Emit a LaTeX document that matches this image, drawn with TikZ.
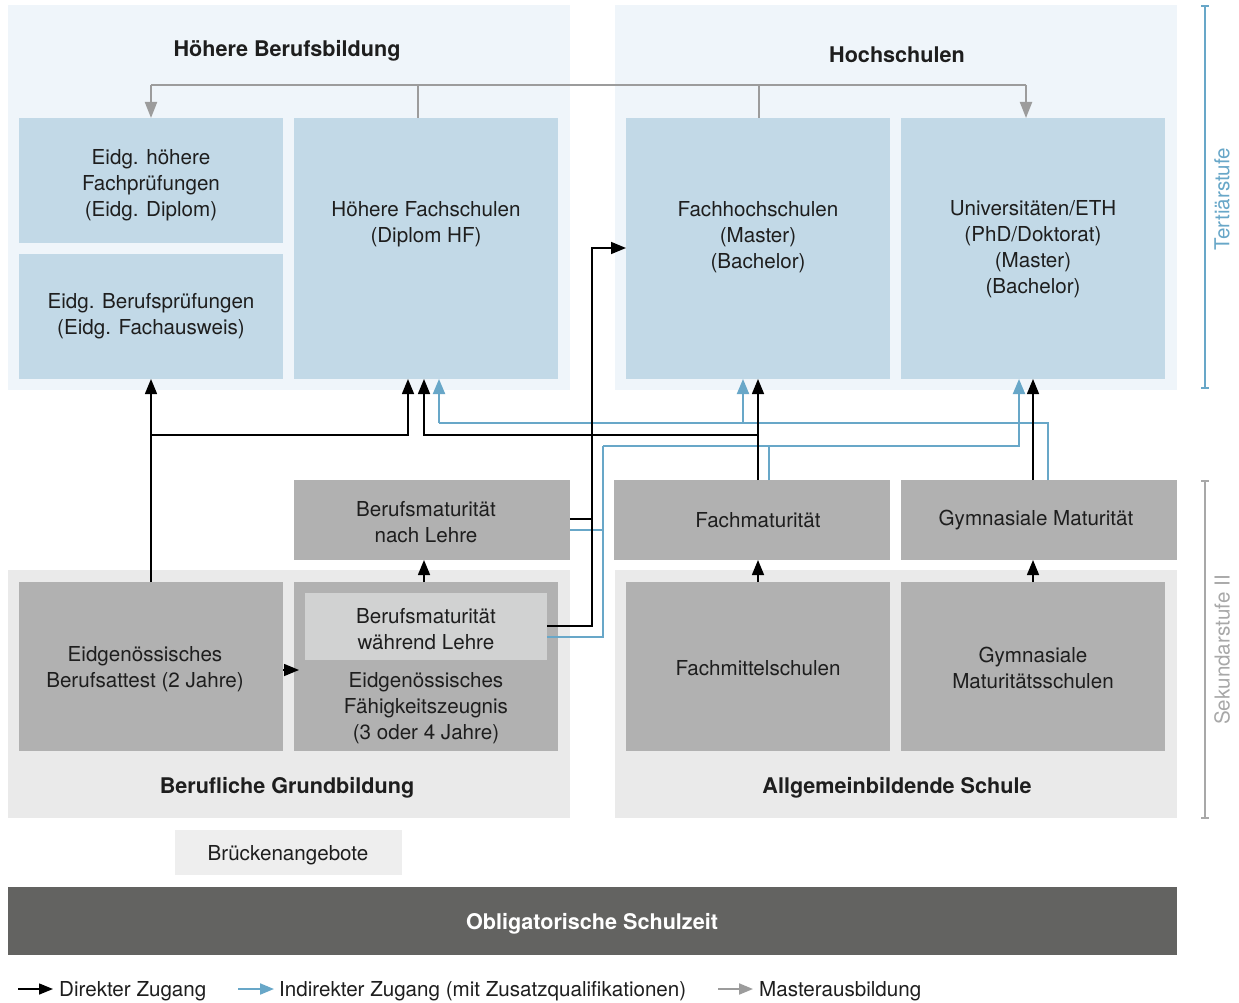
\documentclass[tikz,border=0pt]{standalone}
\usepackage{fontspec}
\setmainfont{TeX Gyre Heros}
\usetikzlibrary{arrows.meta}
\definecolor{panelblue}{HTML}{EFF5FA}
\definecolor{boxblue}{HTML}{C2D9E7}
\definecolor{boxgray}{HTML}{B1B1B1}
\definecolor{panelgray}{HTML}{EAEAEA}
\definecolor{boxlight}{HTML}{D1D2D2}
\definecolor{darkbar}{HTML}{636361}
\definecolor{bluel}{HTML}{68A7C8}
\definecolor{grayl}{HTML}{9C9C9C}
\definecolor{sekgray}{HTML}{A8A8A8}
\definecolor{textc}{HTML}{1E1E1E}
\tikzset{
  rect/.style={inner sep=0, outer sep=0, anchor=north west, draw=none},
  txt/.style={font=\fontsize{20.6}{25.8}\selectfont, align=center, text=textc, inner sep=0, yshift=-2pt},
  ttl/.style={font=\fontsize{21.6}{25}\selectfont\bfseries, align=center, text=textc, inner sep=0, yshift=-2pt},
  direct/.style={draw=black, line width=1.5pt, -{Triangle[length=15pt,width=12pt]}},
  directl/.style={draw=black, line width=1.5pt},
  indirect/.style={draw=bluel, line width=2pt, -{Triangle[length=15pt,width=12pt]}},
  indirectl/.style={draw=bluel, line width=2pt},
  master/.style={draw=grayl, line width=2pt, -{Triangle[length=16pt,width=12pt]}},
  masterl/.style={draw=grayl, line width=2pt},
}
\begin{document}
\begin{tikzpicture}[x=1pt,y=-1pt]
\useasboundingbox (0,0) rectangle (1239,1003);
\fill[white] (0,0) rectangle (1239,1003);

% panels
\node[rect, fill=panelblue, minimum width=562pt, minimum height=385pt] (pHB) at (8,5) {};
\node[rect, fill=panelblue, minimum width=562pt, minimum height=385pt] (pHS) at (615,5) {};
\node[rect, fill=panelgray, minimum width=562pt, minimum height=248pt] (pBG) at (8,570) {};
\node[rect, fill=panelgray, minimum width=562pt, minimum height=248pt] (pAS) at (615,570) {};

% tertiary boxes
\node[rect, fill=boxblue, minimum width=264pt, minimum height=125pt] (hfp) at (19,118) {};
\node[rect, fill=boxblue, minimum width=264pt, minimum height=125pt] (bp) at (19,254) {};
\node[rect, fill=boxblue, minimum width=264pt, minimum height=261pt] (hf) at (294,118) {};
\node[rect, fill=boxblue, minimum width=264pt, minimum height=261pt] (fh) at (626,118) {};
\node[rect, fill=boxblue, minimum width=264pt, minimum height=261pt] (uni) at (901,118) {};

% maturity boxes
\node[rect, fill=boxgray, minimum width=276pt, minimum height=80pt] (bmn) at (294,480) {};
\node[rect, fill=boxgray, minimum width=276pt, minimum height=80pt] (fm) at (614,480) {};
\node[rect, fill=boxgray, minimum width=276pt, minimum height=80pt] (gm) at (901,480) {};

% secondary boxes
\node[rect, fill=boxgray, minimum width=264pt, minimum height=169pt] (bat) at (19,582) {};
\node[rect, fill=boxgray, minimum width=264pt, minimum height=169pt] (efz) at (294,582) {};
\node[rect, fill=boxlight, minimum width=242pt, minimum height=67pt] (bmw) at (305,593) {};
\node[rect, fill=boxgray, minimum width=264pt, minimum height=169pt] (fms) at (626,582) {};
\node[rect, fill=boxgray, minimum width=264pt, minimum height=169pt] (gms) at (901,582) {};

% bottom
\node[rect, fill=panelgray!80!white, minimum width=227pt, minimum height=45pt] (bru) at (175,830) {};
\node[rect, fill=darkbar, minimum width=1169pt, minimum height=68pt] (obl) at (8,887) {};

% titles
\node[ttl] (tHB) at (287,49) {Höhere Berufsbildung};
\node[ttl] (tHS) at (897,53) {Hochschulen};
\node[ttl] (tBG) at (287,786) {Berufliche Grundbildung};
\node[ttl] (tAS) at (897,786) {Allgemeinbildende Schule};
\node[ttl, text=white] (tOBL) at (592,922) {Obligatorische Schulzeit};

% texts
\node[txt] (thfp) at (151,183) {Eidg. höhere\\Fachprüfungen\\(Eidg. Diplom)};
\node[txt] (tbp) at (151,314) {Eidg. Berufsprüfungen\\(Eidg. Fachausweis)};
\node[txt] (thf) at (426,222) {Höhere Fachschulen\\(Diplom HF)};
\node[txt] (tfh) at (758,235) {Fachhochschulen\\(Master)\\(Bachelor)};
\node[txt] (tuni) at (1033,247) {Universitäten/ETH\\(PhD/Doktorat)\\(Master)\\(Bachelor)};
\node[txt] (tbmn) at (426,520) {Berufsmaturität\\nach Lehre};
\node[txt] (tfm) at (758,518) {Fachmaturität};
\node[txt] (tgm) at (1036,518) {Gymnasiale Maturität};
\node[txt] (tbat) at (145,667) {Eidgenössisches\\Berufsattest (2 Jahre)};
\node[txt] (tbmw) at (426,627) {Berufsmaturität\\während Lehre};
\node[txt] (tefz) at (426,706) {Eidgenössisches\\Fähigkeitszeugnis\\(3 oder 4 Jahre)};
\node[txt] (tfms) at (758,666) {Fachmittelschulen};
\node[txt] (tgms) at (1033,666) {Gymnasiale\\Maturitätsschulen};
\node[txt] (tbru) at (288,853) {Brückenangebote};

% master arrows (grey)
\coordinate (mL) at (151,85);
\coordinate (mR) at (1026,85);
\draw[masterl] (mL) -- (mR);
\draw[masterl] (hf.north -| 418,0) -- (418,85);
\draw[masterl] (fh.north -| 759,0) -- (759,85);
\draw[master] (mL) -- (mL |- hfp.north);
\draw[master] (mR) -- (mR |- uni.north);

% blue indirect
\coordinate (bA) at (1048,423);
\coordinate (bB) at (603,446);
\draw[indirectl] (gm.north -| bA) -- (bA) -- (439,423);
\draw[indirect] (439,423) -- (hf.south -| 439,0);
\draw[indirect] (743,423) -- (fh.south -| 743,0);
\draw[indirectl] (fm.north -| 769,0) -- (769,446);
\draw[indirectl] (bmn.east |- 0,530) -- (603,530);
\draw[indirectl] (bmw.east |- 0,637) -- (603,637) -- (bB);
\draw[indirect] (bB) -- (1019,446) -- (uni.south -| 1019,0);

% black direct
\draw[direct] (bat.north) -- (bp.south);
\draw[direct] (151,435) -- (408,435) -- (hf.south -| 408,0);
\draw[direct] (fm.north -| 758,0) -- (fh.south -| 758,0);
\draw[direct] (758,435) -- (424,435) -- (hf.south -| 424,0);
\draw[direct] (gm.north -| 1033,0) -- (uni.south -| 1033,0);
\draw[directl] (bmn.east |- 0,519) -- (592,519);
\draw[direct] (bmw.east |- 0,626) -- (592,626) -- (592,248) -- (fh.west |- 0,248);
\draw[direct] (efz.north -| 424,0) -- (bmn.south -| 424,0);
\draw[direct] (fms.north -| 758,0) -- (fm.south -| 758,0);
\draw[direct] (gms.north -| 1033,0) -- (gm.south -| 1033,0);
\draw[direct] (bat.east |- 0,670) -- (299,670);

% side brackets
\draw[bluel, line width=2pt] (1205,6) -- (1205,388);
\draw[bluel, line width=1.5pt] (1201,6) -- (1209,6) (1201,388) -- (1209,388);
\node[txt, text=bluel, rotate=90, yshift=2pt] (tts) at (1224,197) {Tertiärstufe};
\draw[sekgray, line width=2pt] (1205,481) -- (1205,818);
\draw[sekgray, line width=1.5pt] (1201,481) -- (1209,481) (1201,818) -- (1209,818);
\node[txt, text=sekgray, rotate=90, yshift=2pt] (tsk) at (1224,648) {Sekundarstufe II};

% legend
\coordinate (l1a) at (18,989); \coordinate (l1b) at (53,989);
\coordinate (l2a) at (238,989); \coordinate (l2b) at (274,989);
\coordinate (l3a) at (718,989); \coordinate (l3b) at (753,989);
\draw[direct, -{Triangle[length=14pt,width=11pt]}] (l1a) -- (l1b);
\draw[indirect, -{Triangle[length=14pt,width=11pt]}] (l2a) -- (l2b);
\draw[master, -{Triangle[length=14pt,width=11pt]}] (l3a) -- (l3b);
\node[txt, anchor=west] (lg1) at (59,989) {Direkter Zugang};
\node[txt, anchor=west] (lg2) at (279,989) {Indirekter Zugang (mit Zusatzqualifikationen)};
\node[txt, anchor=west] (lg3) at (759,989) {Masterausbildung};
\end{tikzpicture}
\end{document}
